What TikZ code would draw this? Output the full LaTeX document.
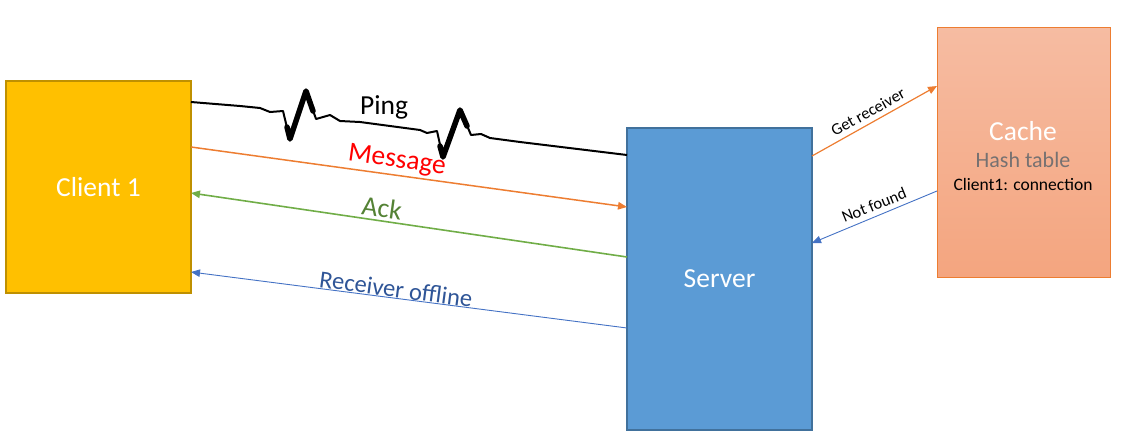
\documentclass[tikz,border=0pt]{standalone}
\usepackage{fontspec}
\setmainfont{Carlito}
\usetikzlibrary{arrows.meta}

\definecolor{clientfill}{HTML}{FFC000}
\definecolor{clientline}{HTML}{BF9000}
\definecolor{serverfill}{HTML}{5B9BD5}
\definecolor{serverline}{HTML}{41719C}
\definecolor{cachetop}{HTML}{F6BCA2}
\definecolor{cachebot}{HTML}{F4A57F}
\definecolor{cacheline}{HTML}{ED7D31}
\definecolor{msgorange}{HTML}{ED7D31}
\definecolor{ackgreen}{HTML}{70AD47}
\definecolor{acktext}{HTML}{548235}
\definecolor{offblue}{HTML}{4472C4}
\definecolor{offtext}{HTML}{2F5597}
\definecolor{hashgray}{HTML}{767171}

\begin{document}
\begin{tikzpicture}[x=1pt,y=1pt,yscale=-1,
  box/.style={draw, line width=1.3pt, outer sep=0pt, inner sep=0pt, minimum width=185pt,
    text=white, font=\fontsize{27.5}{33}\selectfont},
  big/.style={font=\fontsize{27.5}{33}\selectfont},
  small/.style={font=\fontsize{16.5}{20}\selectfont},
  tip/.style={-{Triangle[length=9pt,width=7.5pt]}}]

\useasboundingbox (0,0) rectangle (1128,445);

\node [box, fill=clientfill, draw=clientline, minimum height=212pt] (client) at (98.5,187) {Client 1};
\node [box, fill=serverfill, draw=serverline, minimum height=302pt] (server) at (719.5,279) {Server};
\node [draw=cacheline, line width=1pt, outer sep=0pt, minimum width=173pt, minimum height=250pt,
  top color=cachetop, bottom color=cachebot] (cache) at (1023.5,152) {};

\draw (1023,131) node [big, text=white] (cachename) {Cache};
\draw (1023,160) node [font=\fontsize{22}{26}\selectfont, text=hashgray] (hashname) {Hash table};
\draw (1023,184) node [font=\fontsize{17.5}{21}\selectfont] (hashrow) {Client1: connection};

% ping
\draw [line width=2pt, line join=round] (client.east |- 0,102) -- (240,106) -- (260,108) -- (270,112)
  -- (283,111) -- (290,140) -- (306,90) -- (316,119) -- (330,115) -- (340,121) -- (360,122)
  -- (420,130) -- (427,133) -- (437,131) -- (443,158) -- (460,109) -- (471,135) -- (481,134)
  -- (490,138) -- (520,142) -- (server.west |- 0,155);
\draw [line width=5.5pt, line join=round, line cap=round] (287,127) -- (290,139) -- (306,91) -- (313,111);
\draw [line width=5.5pt, line join=round, line cap=round] (440,146) -- (443,157) -- (460,110) -- (467,126);

% message, ack, offline
\draw [tip, msgorange, line width=1.5pt] (client.east |- 0,147) -- (server.west |- 0,207);
\draw [tip, ackgreen, line width=1.6pt] (server.west |- 0,257) -- (client.east |- 0,193);
\draw [tip, offblue, line width=0.9pt] (server.west |- 0,328) -- (client.east |- 0,272);

% cache lookup
\draw [tip, msgorange, line width=1.2pt] (server.east |- 0,156) -- (cache.west |- 0,86);
\draw [tip, offblue, line width=0.9pt] (cache.west |- 0,191) -- (server.east |- 0,243);

\draw (384,107) node [big] (pinglabel) {Ping};
\draw (397,161) node [big, text=red, rotate=-8] (msglabel) {Message};
\draw (382,208) node [big, text=acktext, rotate=-8] (acklabel) {Ack};
\draw (396,289) node [font=\fontsize{24.5}{29}\selectfont, text=offtext, rotate=-7.5] (offlabel) {Receiver offline};
\draw (868,112) node [small, rotate=29] (getlabel) {Get receiver};
\draw (874,205) node [small, rotate=22] (notlabel) {Not found};

\end{tikzpicture}
\end{document}
